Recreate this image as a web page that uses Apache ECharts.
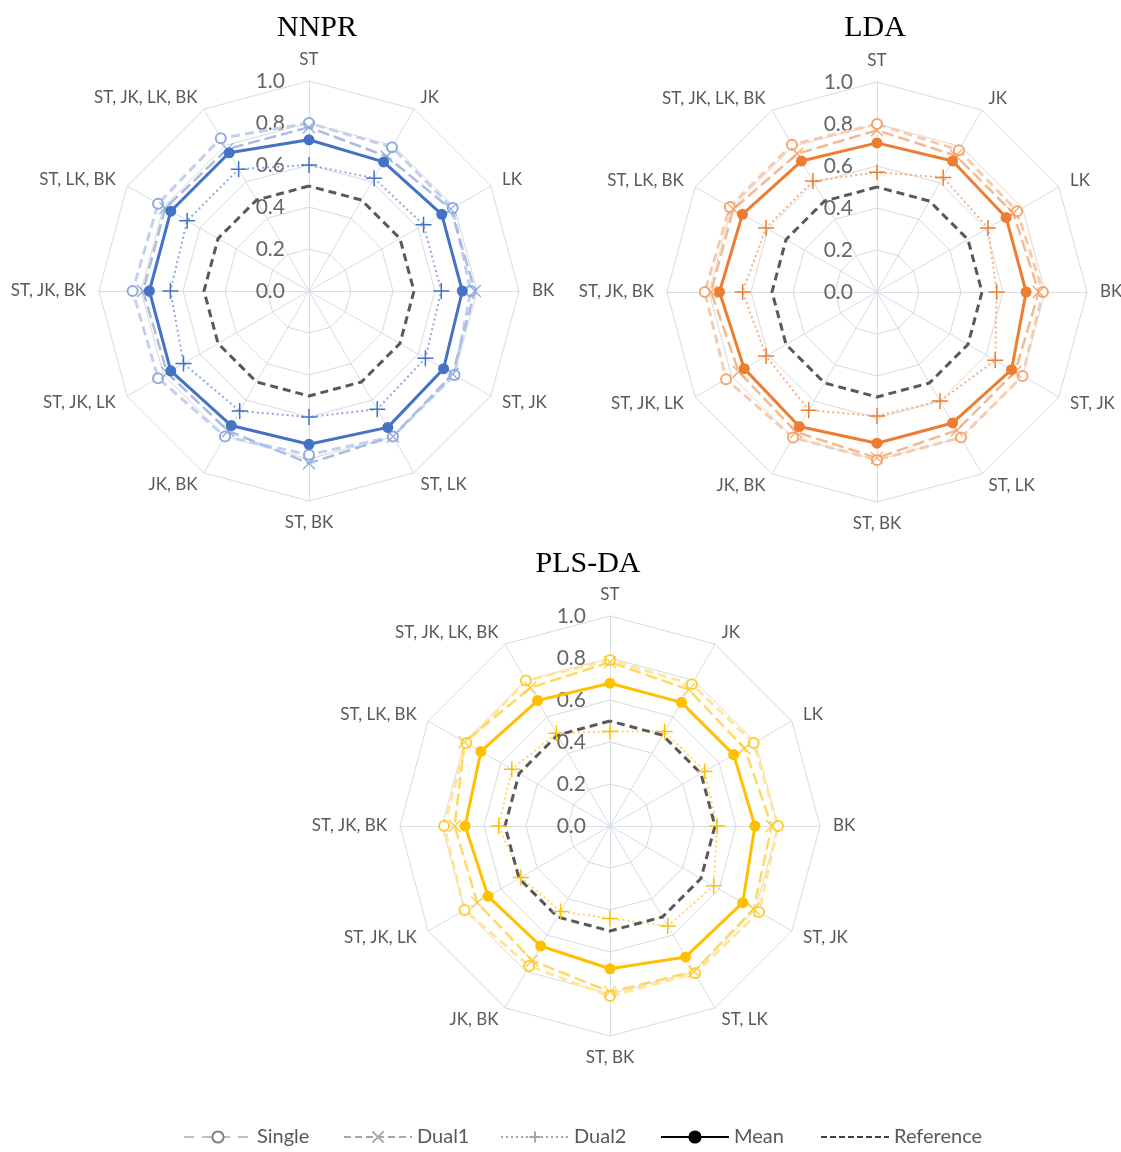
<!DOCTYPE html>
<html>
<head>
<meta charset="utf-8">
<script src="https://cdn.jsdelivr.net/npm/echarts@6/dist/echarts.min.js"></script>
<style>
html, body { margin: 0; padding: 0; background: #fff; }
#main { width: 1121px; height: 1152px; }
</style>
</head>
<body>
<div id="main"></div>
<script>
// categories, clockwise from the top
var categories = ['ST', 'JK', 'LK', 'BK', 'ST, JK', 'ST, LK', 'ST, BK', 'JK, BK',
    'ST, JK, LK', 'ST, JK, BK', 'ST, LK, BK', 'ST, JK, LK, BK'];
var seriesNames = ['Single', 'Dual1', 'Dual2', 'Mean', 'Reference'];

var nnprSingle = [0.80, 0.79, 0.79, 0.77, 0.80, 0.80, 0.78, 0.80, 0.83, 0.84, 0.83, 0.84];
var nnprDual1  = [0.78, 0.74, 0.78, 0.79, 0.79, 0.80, 0.82, 0.77, 0.78, 0.79, 0.79, 0.78];
var nnprDual2  = [0.60, 0.62, 0.63, 0.63, 0.64, 0.65, 0.60, 0.66, 0.69, 0.66, 0.67, 0.67];
var nnprMean   = [0.72, 0.71, 0.73, 0.73, 0.74, 0.75, 0.73, 0.74, 0.76, 0.76, 0.76, 0.76];

var ldaSingle = [0.80, 0.78, 0.77, 0.79, 0.80, 0.80, 0.80, 0.80, 0.83, 0.82, 0.81, 0.81];
var ldaDual1  = [0.77, 0.75, 0.75, 0.77, 0.76, 0.76, 0.79, 0.77, 0.76, 0.79, 0.79, 0.76];
var ldaDual2  = [0.57, 0.63, 0.61, 0.57, 0.65, 0.60, 0.59, 0.65, 0.61, 0.64, 0.61, 0.61];
var ldaMean   = [0.71, 0.72, 0.71, 0.71, 0.74, 0.72, 0.72, 0.74, 0.73, 0.75, 0.74, 0.72];

var plsSingle = [0.79, 0.78, 0.79, 0.80, 0.82, 0.81, 0.81, 0.77, 0.80, 0.79, 0.79, 0.80];
var plsDual1  = [0.78, 0.75, 0.74, 0.77, 0.79, 0.80, 0.79, 0.74, 0.73, 0.74, 0.80, 0.76];
var plsDual2  = [0.45, 0.52, 0.52, 0.51, 0.57, 0.55, 0.44, 0.47, 0.49, 0.53, 0.54, 0.51];
var plsMean   = [0.68, 0.68, 0.68, 0.69, 0.73, 0.72, 0.68, 0.66, 0.67, 0.69, 0.71, 0.69];

var reference = [0.5, 0.5, 0.5, 0.5, 0.5, 0.5, 0.5, 0.5, 0.5, 0.5, 0.5, 0.5];

var axisMin = 0, axisMax = 1, axisSplits = 5;

var crossPath = 'path://M0,0L10,10M10,0L0,10';
var plusPath = 'path://M5,0L5,10M0,5L10,5';
var font = 'Lato, "Open Sans", sans-serif';

// echarts radar runs counter-clockwise, so keep the first and flip the rest
function clockwise(arr) {
    return [arr[0]].concat(arr.slice(1).reverse());
}

function makeRadar(center) {
    var indicator = clockwise(categories).map(function (name, i) {
        var ind = { name: name, min: axisMin, max: axisMax };
        if (i === 0) {
            ind.axisLabel = {
                show: true, color: '#666666', fontSize: 21, fontFamily: font, margin: 24,
                formatter: function (v) { return v.toFixed(1); }
            };
        }
        return ind;
    });
    return {
        center: center,
        radius: 210,
        startAngle: 90,
        shape: 'polygon',
        splitNumber: axisSplits,
        indicator: indicator,
        axisName: { color: '#595959', fontSize: 17, fontFamily: font },
        nameGap: 13,
        axisLabel: { show: false },
        axisLine: { lineStyle: { color: '#d6dde9', width: 1 } },
        splitLine: { lineStyle: { color: '#d9d9d9', width: 1 } },
        splitArea: { show: false }
    };
}

// c: main colour, light: Single/Dual1 lines, mid: their markers, dot: Dual2 line
function makeSeries(idx, c, light, light2, mid, dot, single, dual1, dual2, mean) {
    return {
        type: 'radar',
        radarIndex: idx,
        silent: true,
        data: [
            {
                name: 'Single', value: clockwise(single),
                symbol: 'emptyCircle', symbolSize: 10,
                lineStyle: { color: light, width: 3, type: [9, 5] },
                itemStyle: { color: mid, borderColor: mid, borderWidth: 1.3 }
            },
            {
                name: 'Dual1', value: clockwise(dual1),
                symbol: crossPath, symbolSize: 12,
                lineStyle: { color: light2, width: 2.5, type: [12, 5] },
                itemStyle: { color: 'rgba(0,0,0,0)', borderColor: mid, borderWidth: 1.3 }
            },
            {
                name: 'Dual2', value: clockwise(dual2),
                symbol: plusPath, symbolSize: 16,
                lineStyle: { color: dot, width: 2, type: [2, 3] },
                itemStyle: { color: 'rgba(0,0,0,0)', borderColor: c, borderWidth: 1.5 }
            },
            {
                name: 'Mean', value: clockwise(mean),
                symbol: 'circle', symbolSize: 11,
                lineStyle: { color: c, width: 3, type: 'solid' },
                itemStyle: { color: c, borderWidth: 0 }
            },
            {
                name: 'Reference', value: clockwise(reference),
                symbol: 'none',
                lineStyle: { color: '#595959', width: 3, type: [8, 5] },
                itemStyle: { color: '#595959' }
            }
        ]
    };
}

// empty line series only to give the legend neutral keys
function legendSeries(name, color, width, type, symbol, size, fill) {
    return {
        type: 'line', name: name, data: [], xAxisIndex: 0, yAxisIndex: 0,
        symbol: symbol, symbolSize: size,
        lineStyle: { color: color, width: width, type: type },
        itemStyle: { color: fill, borderColor: color, borderWidth: 1.5 }
    };
}

// one legend box per key, so the keys sit on even steps
var legendLeft = [183, 343, 500, 660, 820];
function makeLegend(name, i) {
    var item = { name: name };
    if (name === 'Reference') {
        item.itemStyle = { opacity: 0 };
    }
    return {
        data: [item],
        left: legendLeft[i], top: 1127,
        padding: 0,
        itemWidth: 68, itemHeight: 14,
        selectedMode: false,
        textStyle: { color: '#595959', fontSize: 20, fontFamily: font }
    };
}

var chart = echarts.init(document.getElementById('main'));

var titleStyle = { fontFamily: 'Liberation Serif', fontSize: 30, fontWeight: 'normal', color: '#000' };

var option = {
    animation: false,
    backgroundColor: '#fff',
    title: [
        { text: 'NNPR', left: 312, top: 8, textAlign: 'center', textStyle: titleStyle },
        { text: 'LDA', left: 870, top: 8, textAlign: 'center', textStyle: titleStyle },
        { text: 'PLS-DA', left: 583, top: 544, textAlign: 'center', textStyle: titleStyle }
    ],
    grid: { left: -200, top: -200, width: 10, height: 10, show: false },
    xAxis: { type: 'category', show: false, data: [] },
    yAxis: { type: 'value', show: false },
    legend: seriesNames.map(makeLegend),
    radar: [
        makeRadar([309, 291]),
        makeRadar([877, 292]),
        makeRadar([610, 826])
    ],
    series: [
        legendSeries('Single', '#bfbfbf', 2.5, [10, 8], 'emptyCircle', 10, '#808080'),
        legendSeries('Dual1', '#a6a6a6', 2, [7, 4], crossPath, 11, 'rgba(0,0,0,0)'),
        legendSeries('Dual2', '#a6a6a6', 1.5, [2, 3], plusPath, 13, 'rgba(0,0,0,0)'),
        legendSeries('Mean', '#000000', 3, 'solid', 'circle', 11, '#000'),
        legendSeries('Reference', '#404040', 2.5, [6, 3], 'circle', 1, '#404040'),
        makeSeries(0, '#4472c4', '#c3d1ec', '#a9bde4', '#8faadc', '#8faadc',
            nnprSingle, nnprDual1, nnprDual2, nnprMean),
        makeSeries(1, '#ed7d31', '#f8cbad', '#f5b98f', '#f4a46e', '#f4b183',
            ldaSingle, ldaDual1, ldaDual2, ldaMean),
        makeSeries(2, '#ffc000', '#ffe699', '#ffd966', '#ffcc33', '#ffd966',
            plsSingle, plsDual1, plsDual2, plsMean)
    ]
};

chart.setOption(option);
</script>
</body>
</html>
